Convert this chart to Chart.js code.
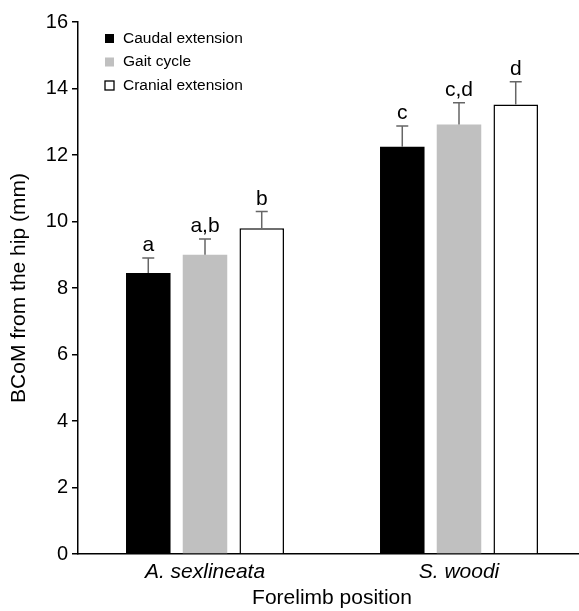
<!DOCTYPE html>
<html>
<head>
<meta charset="utf-8">
<script src="https://cdn.jsdelivr.net/npm/chart.js@4"></script>
<style>
  html, body { margin: 0; padding: 0; background: #fff; overflow: hidden; }
  #wrap { width: 579px; height: 611px; overflow: hidden; }
</style>
</head>
<body>
<div id="wrap"><canvas id="bcomChart" width="586" height="611"></canvas></div>
<script>
const species = ['A. sexlineata', 'S. woodi'];
const caudal = [8.45, 12.25];
const gait = [9.0, 12.92];
const cranial = [9.8, 13.52];
const caudalErr = [0.45, 0.62];
const gaitErr = [0.47, 0.65];
const cranialErr = [0.5, 0.68];
const caudalSig = ['a', 'c'];
const gaitSig = ['a,b', 'c,d'];
const cranialSig = ['b', 'd'];
const yTicks = [0, 2, 4, 6, 8, 10, 12, 14, 16];

const font = '"Liberation Sans", Arial, sans-serif';

// error bars and letters on top of each bar
const errorBars = {
    id: 'errorBars',
    afterDatasetsDraw(chart) {
        const ctx = chart.ctx;
        const y = chart.scales.y;
        chart.data.datasets.forEach((ds, i) => {
            const meta = chart.getDatasetMeta(i);
            meta.data.forEach((bar, j) => {
                const top = y.getPixelForValue(ds.data[j] + ds.err[j]);
                ctx.save();
                ctx.strokeStyle = '#666';
                ctx.lineWidth = 1.5;
                ctx.beginPath();
                ctx.moveTo(bar.x, bar.y);
                ctx.lineTo(bar.x, top);
                ctx.moveTo(bar.x - 6, top);
                ctx.lineTo(bar.x + 6, top);
                ctx.stroke();
                ctx.fillStyle = '#000';
                ctx.font = '21px ' + font;
                ctx.textAlign = 'center';
                ctx.textBaseline = 'alphabetic';
                ctx.fillText(ds.sig[j], bar.x, top - 7);
                ctx.restore();
            });
        });
    }
};

// legend drawn inside the plot, top left
const innerLegend = {
    id: 'innerLegend',
    afterDraw(chart) {
        const ctx = chart.ctx;
        const a = chart.chartArea;
        ctx.save();
        ctx.font = '15.5px ' + font;
        ctx.textBaseline = 'middle';
        chart.data.datasets.forEach((ds, i) => {
            const x = a.left + 27;
            const yy = a.top + 16.5 + i * 23.5;
            ctx.fillStyle = ds.backgroundColor;
            ctx.fillRect(x, yy - 4.5, 9, 9);
            if (ds.borderWidth) {
                ctx.strokeStyle = '#000';
                ctx.lineWidth = 1.3;
                ctx.strokeRect(x, yy - 4.5, 9, 9);
            }
            ctx.fillStyle = '#000';
            ctx.fillText(ds.label, x + 18, yy);
        });
        ctx.restore();
    }
};

new Chart(document.getElementById('bcomChart'), {
    type: 'bar',
    data: {
        labels: species,
        datasets: [
            { label: 'Caudal extension', data: caudal, err: caudalErr, sig: caudalSig,
              backgroundColor: '#000', borderWidth: 0 },
            { label: 'Gait cycle', data: gait, err: gaitErr, sig: gaitSig,
              backgroundColor: '#c0c0c0', borderWidth: 0 },
            { label: 'Cranial extension', data: cranial, err: cranialErr, sig: cranialSig,
              backgroundColor: '#fff', borderColor: '#000', borderWidth: 1.5 }
        ]
    },
    options: {
        responsive: false,
        animation: false,
        layout: { padding: { top: 22, right: 0, left: 0, bottom: 0 } },
        categoryPercentage: 0.67,
        barPercentage: 0.785,
        plugins: { legend: { display: false }, tooltip: { enabled: false } },
        scales: {
            x: {
                grid: { display: false },
                border: { color: '#000', width: 1.5 },
                ticks: { color: '#000', font: { family: font, size: 21, style: 'italic' }, padding: -2 },
                title: { display: true, text: 'Forelimb position', color: '#000',
                         font: { family: font, size: 21 }, padding: { top: 0, bottom: 0 } },
                afterFit(scale) { scale.height = 57; }
            },
            y: {
                min: 0, max: 16,
                afterBuildTicks(scale) { scale.ticks = yTicks.map(v => ({ value: v })); },
                grid: { drawOnChartArea: false, color: '#000', tickLength: 6, lineWidth: 1.5 },
                border: { color: '#000', width: 1.5 },
                ticks: { color: '#000', font: { family: font, size: 20 }, padding: 4 },
                title: { display: true, text: 'BCoM from the hip (mm)', color: '#000',
                         font: { family: font, size: 21 }, padding: { top: 7, bottom: 0 } },
                afterFit(scale) { scale.width = 78; }
            }
        }
    },
    plugins: [errorBars, innerLegend]
});
</script>
</body>
</html>
